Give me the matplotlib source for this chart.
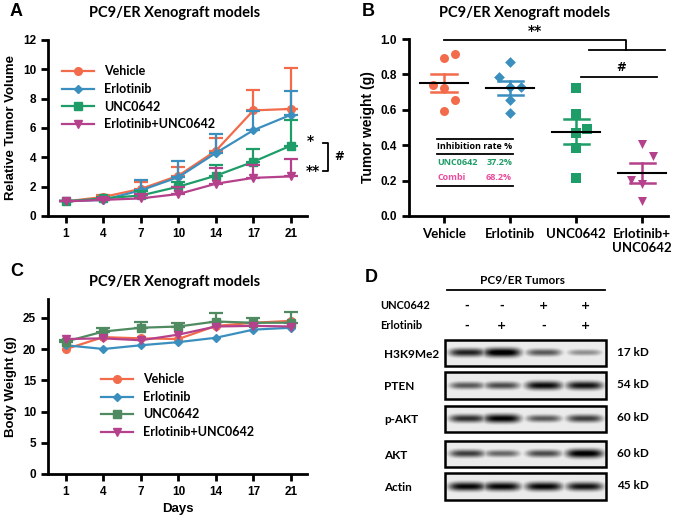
import numpy as np
import matplotlib
matplotlib.use("Agg")
import matplotlib.pyplot as plt

# ---- data ----
days = ["1", "4", "7", "10", "14", "17", "21"]
groups = ["Vehicle", "Erlotinib", "UNC0642", "Erlotinib+UNC0642"]

# panel A: relative tumor volume (mean, upper error)
vol_vehicle = [1.0, 1.3, 1.85, 2.75, 4.45, 7.2, 7.3]
vol_erlotinib = [1.0, 1.1, 1.75, 2.65, 4.3, 5.85, 6.9]
vol_unc = [1.0, 1.2, 1.4, 2.0, 2.75, 3.7, 4.8]
vol_combo = [1.0, 1.1, 1.2, 1.5, 2.2, 2.6, 2.7]
err_vehicle = [0.05, 0.1, 0.45, 0.6, 0.85, 1.4, 2.8]
err_erlotinib = [0.05, 0.15, 0.7, 1.1, 1.3, 1.3, 1.6]
err_unc = [0.05, 0.1, 0.3, 0.35, 0.75, 0.9, 1.75]
err_combo = [0.05, 0.1, 0.3, 0.5, 1.1, 0.9, 1.2]

# panel B: tumor weight (g)
wt_vehicle = [0.893, 0.913, 0.738, 0.723, 0.653, 0.593]
wt_erlotinib = [0.872, 0.783, 0.727, 0.727, 0.657, 0.582]
wt_unc = [0.723, 0.574, 0.49, 0.467, 0.386, 0.215]
wt_combo = [0.407, 0.339, 0.203, 0.18, 0.085]
b_labels = ["Vehicle", "Erlotinib", "UNC0642", "Erlotinib+\nUNC0642"]
inhib_names = ["UNC0642", "Combi"]
inhib_rates = ["37.2%", "68.2%"]

# panel C: body weight (g)
bw_vehicle = [20.0, 21.9, 21.7, 21.6, 23.7, 24.2, 24.5]
bw_erlotinib = [20.6, 20.0, 20.6, 21.1, 21.8, 23.1, 23.4]
bw_unc = [21.2, 22.8, 23.4, 23.6, 24.4, 24.2, 24.2]
bw_combo = [21.6, 21.7, 21.4, 22.3, 23.6, 23.7, 23.6]
bw_err_unc = [0.3, 0.6, 0.9, 0.6, 1.3, 0.8, 1.8]

# panel D: western blot band intensities (0-1), lanes in order
blot_names = ["H3K9Me2", "PTEN", "p-AKT", "AKT", "Actin"]
blot_kd = ["17 kD", "54 kD", "60 kD", "60 kD", "45 kD"]
blot_int = [
    [0.8, 0.98, 0.6, 0.4],
    [0.6, 0.65, 0.88, 0.85],
    [0.75, 0.92, 0.6, 0.7],
    [0.7, 0.55, 0.65, 0.95],
    [0.9, 0.9, 0.9, 0.85],
]
unc_signs = ["-", "-", "+", "+"]
erl_signs = ["-", "+", "-", "+"]

# ---- style ----
C_VEH = "#F26B4B"
C_ERL = "#3B8FBF"
C_UNC = "#1F9D68"
C_UNC_C = "#4F8A60"
C_COMBO = "#B5418C"
TF = "Lato"            # calibri-like
AF = "Liberation Sans"  # arial-like
SF = "Open Sans"       # small bold text

W, H = 680, 517
fig = plt.figure(figsize=(W / 100, H / 100), dpi=100)


def rect(l, t, r, b):
    return [l / W, 1 - b / H, (r - l) / W, (b - t) / H]


def style_axes(ax):
    for s in ["top", "right"]:
        ax.spines[s].set_visible(False)
    for s in ["left", "bottom"]:
        ax.spines[s].set_linewidth(2)
    ax.tick_params(width=2, length=5, labelsize=8.5)
    for lab in ax.get_xticklabels() + ax.get_yticklabels():
        lab.set_fontweight("bold")
        lab.set_family(AF)


def growth_lines(ax, series):
    # series: list of (values, upper error or None, colour, marker)
    x = np.arange(len(days))
    for name, (v, e, c, m) in zip(groups, series):
        ms = 4.5 if m == "D" else 5.5
        if e is not None:
            ax.errorbar(x, v, yerr=[np.zeros(len(e)), e], fmt="none", ecolor=c,
                        elinewidth=1.6, capsize=5, capthick=1.6)
        ax.plot(x, v, color=c, marker=m, ms=ms, lw=1.6, label=name)
    ax.set_xlim(-0.48, 6.43)
    ax.set_xticks(x)
    ax.set_xticklabels(days)


# ---- panel A ----
axA = fig.add_axes(rect(48, 40, 307, 216))
growth_lines(axA, [(vol_vehicle, err_vehicle, C_VEH, "o"),
                   (vol_erlotinib, err_erlotinib, C_ERL, "D"),
                   (vol_unc, err_unc, C_UNC, "s"),
                   (vol_combo, err_combo, C_COMBO, "v")])
axA.set_ylim(0, 12)
axA.set_yticks(range(0, 13, 2))
axA.set_ylabel("Relative Tumor Volume", fontsize=9.5, fontweight="bold", family=AF)
style_axes(axA)
axA.legend(loc="upper left", bbox_to_anchor=(0.01, 0.92), frameon=False,
           prop={"family": TF, "weight": "bold", "size": 9}, handlelength=2.6,
           labelspacing=0.45)
axA.text(6.43, 5.1, "*", fontsize=10, fontweight="bold", va="center", clip_on=False)
axA.text(6.4, 3.05, "**", fontsize=10, fontweight="bold", va="center", clip_on=False)
axA.plot([6.85, 7.0, 7.0, 6.85], [5.0, 5.0, 3.1, 3.1], color="black", lw=1.3, clip_on=False)
axA.text(7.15, 4.05, "#", fontsize=8.5, fontweight="bold", va="center", clip_on=False)
fig.text(175 / W, 1 - 13 / H, "PC9/ER Xenograft models", ha="center", va="center",
         fontsize=10.5, fontweight="bold", family=TF)
fig.text(10 / W, 1 - 12 / H, "A", fontsize=13, fontweight="bold", family=AF, va="center")

# ---- panel B ----
axB = fig.add_axes(rect(409, 39, 668, 216))
wts = [wt_vehicle, wt_erlotinib, wt_unc, wt_combo]
offsets = [[0, 0.16, -0.17, 0, 0.16, 0],
           [0, -0.17, 0, 0.16, 0, 0],
           [0, 0, 0.16, 0, 0, 0],
           [0, 0.16, -0.17, 0, 0]]
cols = [C_VEH, C_ERL, C_UNC, C_COMBO]
marks = ["o", "D", "s", "v"]
for i, (w, off, c, m) in enumerate(zip(wts, offsets, cols, marks)):
    w = np.array(w)
    sz = 30 if m == "D" else 42
    axB.scatter(i + np.array(off), w, s=sz, color=c, marker=m, lw=0, zorder=3)
    mu = w.mean()
    sem = w.std(ddof=1) / np.sqrt(len(w))
    axB.plot([i - 0.36, i + 0.36], [mu, mu], color="black", lw=1.5, zorder=4)
    axB.plot([i, i], [mu - sem, mu + sem], color=c, lw=1.8, zorder=2)
    for yy in (mu - sem, mu + sem):
        axB.plot([i - 0.19, i + 0.19], [yy, yy], color=c, lw=1.8, zorder=2)
axB.set_xlim(-0.53, 3.39)
axB.set_ylim(0, 1.0)
axB.set_yticks(np.arange(0, 1.01, 0.2))
axB.set_yticklabels(["%.1f" % t for t in np.arange(0, 1.01, 0.2)])
axB.set_xticks(range(4))
axB.set_xticklabels(b_labels)
axB.set_ylabel("Tumor weight (g)", fontsize=10, fontweight="bold", family=AF)
style_axes(axB)
for lab in axB.get_xticklabels():
    lab.set_family(TF)
    lab.set_fontsize(9.5)
# significance
axB.plot([0, 2.76, 2.76], [0.997, 0.997, 0.94], color="black", lw=1.3, clip_on=False)
axB.plot([2.2, 3.35], [0.94, 0.94], color="black", lw=1.3, clip_on=False)
axB.text(1.37, 1.005, "**", ha="center", va="bottom", fontsize=10, fontweight="bold")
axB.plot([2.08, 3.23], [0.787, 0.787], color="black", lw=1.3)
axB.text(2.68, 0.8, "#", ha="center", va="bottom", fontsize=8.5, fontweight="bold")
# inhibition table
for yy in (0.433, 0.35, 0.172):
    axB.plot([-0.11, 1.04], [yy, yy], color="black", lw=1.3)
axB.text(-0.1, 0.39, "Inhibition rate %", fontsize=6.5, fontweight="bold", family=SF, va="center")
for k, (n, r, c) in enumerate(zip(inhib_names, inhib_rates, [C_UNC, "#E84C9C"])):
    yy = 0.3 - k * 0.083
    axB.text(-0.1, yy, n, fontsize=6.5, fontweight="bold", family=SF, color=c, va="center")
    axB.text(1.03, yy, r, fontsize=6.5, fontweight="bold", family=SF, color=c,
             va="center", ha="right")
fig.text(525 / W, 1 - 13 / H, "PC9/ER Xenograft models", ha="center", va="center",
         fontsize=10.5, fontweight="bold", family=TF)
fig.text(362 / W, 1 - 12 / H, "B", fontsize=13, fontweight="bold", family=AF, va="center")

# ---- panel C ----
axC = fig.add_axes(rect(48, 299, 307, 474))
growth_lines(axC, [(bw_vehicle, None, C_VEH, "o"),
                   (bw_erlotinib, None, C_ERL, "D"),
                   (bw_unc, bw_err_unc, C_UNC_C, "s"),
                   (bw_combo, None, C_COMBO, "v")])
axC.set_ylim(0, 28)
axC.set_yticks(range(0, 26, 5))
axC.set_ylabel("Body Weight (g)", fontsize=9.5, fontweight="bold", family=AF)
axC.set_xlabel("Days", fontsize=9.5, fontweight="bold", family=AF)
style_axes(axC)
axC.legend(loc="upper left", bbox_to_anchor=(0.16, 0.64), frameon=False,
           prop={"family": TF, "weight": "bold", "size": 9}, handlelength=2.6,
           labelspacing=0.45)
fig.text(175 / W, 1 - 282 / H, "PC9/ER Xenograft models", ha="center", va="center",
         fontsize=10.5, fontweight="bold", family=TF)
fig.text(10 / W, 1 - 272 / H, "C", fontsize=13, fontweight="bold", family=AF, va="center")

# ---- panel D: western blot ----
axD = fig.add_axes([340 / W, 0, 340 / W, 260 / H])
axD.axis("off")
lane_x = [467, 502, 544, 585]
box_l, box_r = 445, 606
box_tops = [342, 374, 407, 442, 474]
box_h = 26
axD.text(522, 283, "PC9/ER Tumors", ha="center", va="center", fontsize=8.5,
         fontweight="bold", family=TF)
axD.plot([447, 605], [293, 293], color="black", lw=1.3)
axD.text(380, 308, "UNC0642", va="center", fontsize=8, fontweight="bold", family=TF)
axD.text(380, 328, "Erlotinib", va="center", fontsize=8, fontweight="bold", family=TF)
for lx, su, se in zip(lane_x, unc_signs, erl_signs):
    axD.text(lx, 308, su, ha="center", va="center", fontsize=8, fontweight="bold")
    axD.text(lx, 328, se, ha="center", va="center", fontsize=8, fontweight="bold")

xx = np.linspace(box_l, box_r, 200)
yy = np.linspace(0, box_h, 40)
XX, YY = np.meshgrid(xx, yy)
for k, (name, kd, ints) in enumerate(zip(blot_names, blot_kd, blot_int)):
    top = box_tops[k]
    img = np.full(XX.shape, 0.08)
    for lx, a in zip(lane_x, ints):
        hw = 16 + 3 * a
        vh = 2.4 + 2.2 * a
        band = a * np.exp(-(np.abs(XX - lx) / hw) ** 4) * np.exp(-((YY - box_h * 0.5) / vh) ** 2)
        img = np.maximum(img, band * 1.1)
    axD.imshow(img, cmap="gray_r", vmin=0, vmax=1, aspect="auto",
               extent=[box_l, box_r, top + box_h, top], interpolation="bilinear")
    axD.add_patch(plt.Rectangle((box_l, top), box_r - box_l, box_h, fill=False,
                                lw=1.8, ec="black"))
    axD.text(384, top + box_h / 2 + 1, name, va="center", fontsize=8.5,
             fontweight="bold", family=TF)
    axD.text(617, top + box_h / 2 - 1, kd, va="center", fontsize=8.5,
             fontweight="bold", family=TF)
axD.set_xlim(340, 680)
axD.set_ylim(517, 260)
fig.text(365 / W, 1 - 278 / H, "D", fontsize=13, fontweight="bold", family=AF, va="center")

fig.savefig("out.png", dpi=100)
